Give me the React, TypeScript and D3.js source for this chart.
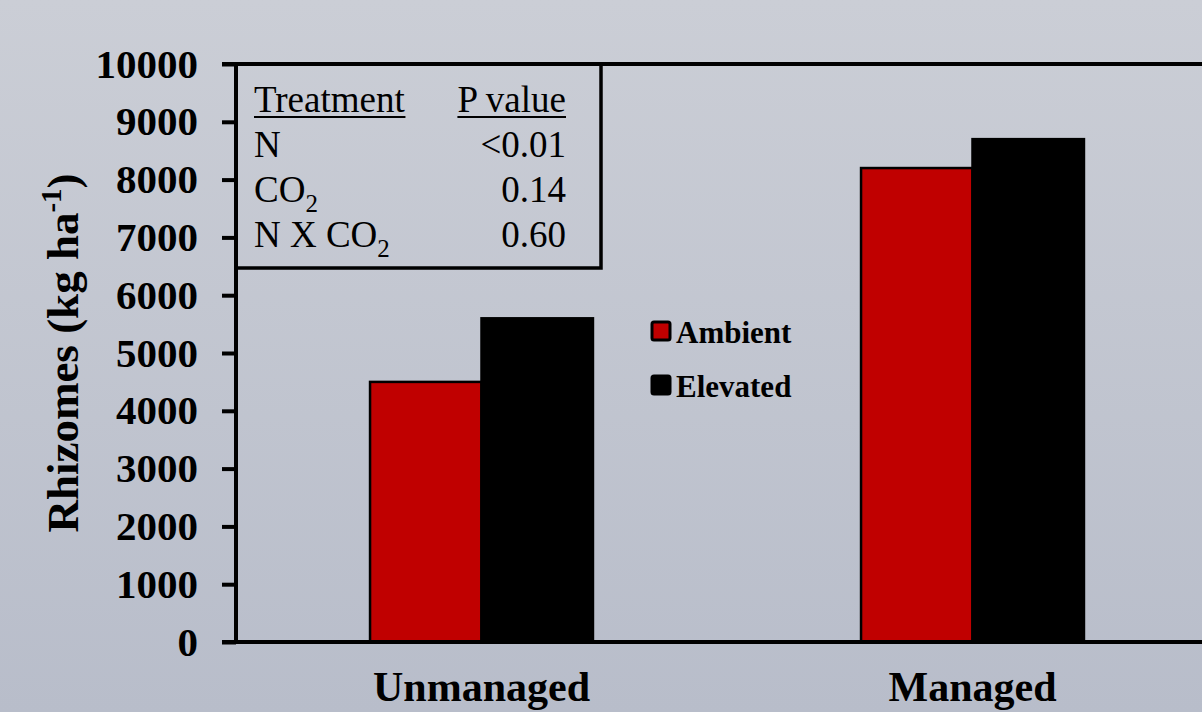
import React, { useEffect, useRef } from 'react';
import * as d3 from 'd3';

const W = 1202;
const H = 712;

const categories = ['Unmanaged', 'Managed'];
const seriesNames = ['Ambient', 'Elevated'];
const ambient = [4500, 8200];
const elevated = [5600, 8700];
const seriesColors = ['#c00000', '#000000'];
const yTicks = [0, 1000, 2000, 3000, 4000, 5000, 6000, 7000, 8000, 9000, 10000];

// inset table of p values
const treatments = [
  { main: 'N', sub: '' },
  { main: 'CO', sub: '2' },
  { main: 'N X CO', sub: '2' },
];
const pValues = ['<0.01', '0.14', '0.60'];

const FONT = '"Liberation Serif", "Times New Roman", serif';

export default function App() {
  const svgRef = useRef<SVGSVGElement>(null);

  useEffect(() => {
    if (!svgRef.current) return;
    const svg = d3.select(svgRef.current);
    svg.selectAll('*').remove();

    const defs = svg.append('defs');
    const grad = defs
      .append('linearGradient')
      .attr('id', 'bg')
      .attr('x1', 0)
      .attr('y1', 0)
      .attr('x2', 0)
      .attr('y2', 1);
    grad.append('stop').attr('offset', '0%').attr('stop-color', '#cbced6');
    grad.append('stop').attr('offset', '100%').attr('stop-color', '#b8bdca');
    svg.append('rect').attr('width', W).attr('height', H).attr('fill', 'url(#bg)');

    const left = 236;
    const y = d3.scaleLinear().domain([0, 10000]).range([642, 64]);
    const x0 = d3
      .scaleBand<string>()
      .domain(categories)
      .range([left, 1218])
      .paddingInner(0.546)
      .paddingOuter(0.273);
    const x1 = d3.scaleBand<string>().domain(seriesNames).range([0, x0.bandwidth()]);

    const values = [ambient, elevated];

    // bars
    const g = svg.append('g');
    categories.forEach((c, ci) => {
      seriesNames.forEach((s, si) => {
        const v = values[si][ci];
        g.append('rect')
          .attr('x', x0(c)! + x1(s)!)
          .attr('y', y(v))
          .attr('width', x1.bandwidth())
          .attr('height', y(0) - y(v))
          .attr('fill', seriesColors[si])
          .attr('stroke', '#000')
          .attr('stroke-width', 2.5);
      });
    });

    // y axis
    const yAxis = svg
      .append('g')
      .attr('transform', `translate(${left},0)`)
      .call(
        d3
          .axisLeft(y)
          .tickValues(yTicks)
          .tickSize(14)
          .tickPadding(24)
          .tickFormat((d) => String(d))
      );
    yAxis.select('.domain').attr('stroke', '#000').attr('stroke-width', 4).attr('d', `M0,${y(10000)}V${y(0)}`);
    yAxis.selectAll('.tick line').attr('stroke', '#000').attr('stroke-width', 4);
    yAxis
      .selectAll('.tick text')
      .attr('fill', '#000')
      .attr('font-family', FONT)
      .attr('font-weight', 'bold')
      .attr('font-size', 41);

    // x axis + top line
    [0, 10000].forEach((v) => {
      svg
        .append('line')
        .attr('x1', 222)
        .attr('x2', W)
        .attr('y1', y(v))
        .attr('y2', y(v))
        .attr('stroke', '#000')
        .attr('stroke-width', 4);
    });

    // category labels
    svg
      .append('g')
      .selectAll('text')
      .data(categories)
      .join('text')
      .attr('x', (d) => x0(d)! + x0.bandwidth() / 2)
      .attr('y', 701)
      .attr('text-anchor', 'middle')
      .attr('font-family', FONT)
      .attr('font-weight', 'bold')
      .attr('font-size', 42)
      .text((d) => d);

    // y title
    const yt = svg
      .append('text')
      .attr('transform', `translate(78,${(y(0) + y(10000)) / 2}) rotate(-90)`)
      .attr('text-anchor', 'middle')
      .attr('font-family', FONT)
      .attr('font-weight', 'bold')
      .attr('font-size', 45);
    yt.append('tspan').text('Rhizomes (kg ha');
    yt.append('tspan').attr('font-size', 29).attr('dy', -17).text('-1');
    yt.append('tspan').attr('dy', 17).text(')');

    // legend
    const lg = svg.append('g');
    seriesNames.forEach((s, i) => {
      const ly = 322 + i * 54;
      lg.append('rect')
        .attr('x', 652)
        .attr('y', ly)
        .attr('width', 18)
        .attr('height', 18)
        .attr('rx', 2)
        .attr('fill', seriesColors[i])
        .attr('stroke', '#000')
        .attr('stroke-width', 3);
      lg.append('text')
        .attr('x', 676)
        .attr('y', ly + 21)
        .attr('font-family', FONT)
        .attr('font-weight', 'bold')
        .attr('font-size', 31)
        .text(s);
    });

    // inset stats box
    const box = svg.append('g');
    box
      .append('rect')
      .attr('x', left)
      .attr('y', y(10000))
      .attr('width', 601 - left)
      .attr('height', 268 - y(10000))
      .attr('fill', 'none')
      .attr('stroke', '#000')
      .attr('stroke-width', 3.5);
    const tx = 254;
    const vx = 566;
    const rowY = (i: number) => 112 + i * 45;
    const hdr = box
      .append('g')
      .attr('font-family', FONT)
      .attr('font-size', 37);
    hdr.append('text').attr('x', tx).attr('y', rowY(0)).text('Treatment');
    hdr.append('text').attr('x', vx).attr('y', rowY(0)).attr('text-anchor', 'end').text('P value');
    hdr.selectAll('text').each(function () {
      const t = this as SVGTextElement;
      const bb = t.getBBox();
      hdr
        .append('line')
        .attr('x1', bb.x)
        .attr('x2', bb.x + bb.width)
        .attr('y1', rowY(0) + 5)
        .attr('y2', rowY(0) + 5)
        .attr('stroke', '#000')
        .attr('stroke-width', 2);
    });
    treatments.forEach((tr, i) => {
      const t = box
        .append('text')
        .attr('x', tx)
        .attr('y', rowY(i + 1))
        .attr('font-family', FONT)
        .attr('font-size', 37);
      t.append('tspan').text(tr.main);
      if (tr.sub) t.append('tspan').attr('font-size', 25).attr('dy', 10).text(tr.sub);
      box
        .append('text')
        .attr('x', vx)
        .attr('y', rowY(i + 1))
        .attr('text-anchor', 'end')
        .attr('font-family', FONT)
        .attr('font-size', 37)
        .text(pValues[i]);
    });
  }, []);

  return (
    <div style={{ position: 'fixed', left: 0, top: 0 }}>
      <svg ref={svgRef} width={W} height={H} style={{ display: 'block' }} />
    </div>
  );
}
